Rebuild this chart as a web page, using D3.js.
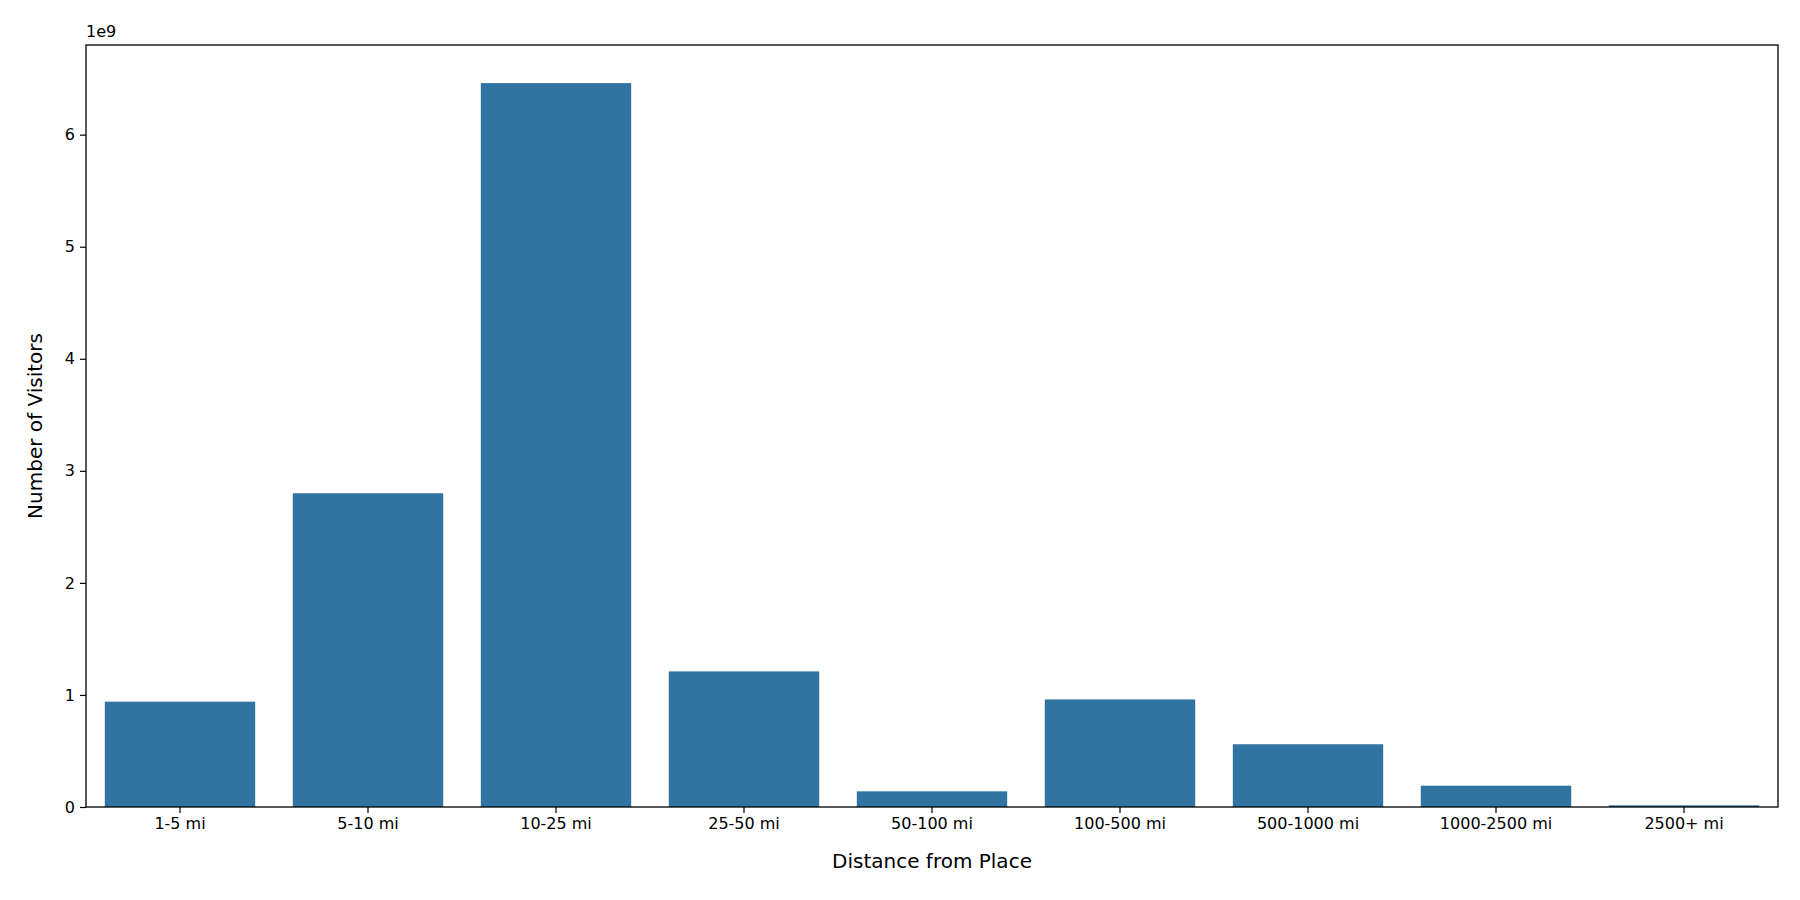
<!DOCTYPE html><html><head><meta charset="utf-8"><script src="https://cdn.jsdelivr.net/npm/d3@7"></script>
<style>body{margin:0;background:#fff}text{font-family:"DejaVu Sans",sans-serif}</style></head><body><svg width="1800" height="900"></svg><script>
const categories=["1-5 mi","5-10 mi","10-25 mi","25-50 mi","50-100 mi","100-500 mi","500-1000 mi","1000-2500 mi","2500+ mi"];
const values=[0.94e9,2.80e9,6.46e9,1.21e9,0.14e9,0.96e9,0.56e9,0.19e9,0.015e9];
const yTicks=[0,1,2,3,4,5,6];
const m={l:86,r:1778,t:45,b:807};
const svg=d3.select("svg");
const x=d3.scaleBand().domain(categories).range([m.l,m.r]).paddingInner(0.2).paddingOuter(0.1);
const y=d3.scaleLinear().domain([0,6.8e9]).range([m.b,m.t]);
svg.selectAll("rect.bar").data(values).join("rect").attr("x",(d,i)=>x(categories[i])).attr("width",x.bandwidth())
 .attr("y",d=>y(d)).attr("height",d=>m.b-y(d)).attr("fill","#3274a1");
const xa=svg.append("g").attr("transform",`translate(0,${m.b})`).call(d3.axisBottom(x).tickSizeOuter(0).tickSize(6).tickPadding(5));
const ya=svg.append("g").attr("transform",`translate(${m.l},0)`).call(d3.axisLeft(y).tickValues(yTicks.map(v=>v*1e9)).tickFormat(d=>d/1e9).tickSizeOuter(0).tickSize(6).tickPadding(5));
[xa,ya].forEach(a=>{a.selectAll("text").attr("font-size",16).attr("fill","#000");a.select(".domain").remove();a.selectAll("line").attr("stroke","#000").attr("stroke-width",1.2)});
svg.append("rect").attr("x",m.l).attr("y",m.t).attr("width",m.r-m.l).attr("height",m.b-m.t).attr("fill","none").attr("stroke","#000").attr("stroke-width",1.3);
svg.append("text").attr("x",m.l).attr("y",m.t-8).attr("font-size",16).text("1e9");
svg.append("text").attr("x",(m.l+m.r)/2).attr("y",868).attr("text-anchor","middle").attr("font-size",20).text("Distance from Place");
svg.append("text").attr("transform",`translate(42,${(m.t+m.b)/2}) rotate(-90)`).attr("text-anchor","middle").attr("font-size",20).text("Number of Visitors");
</script></body></html>
